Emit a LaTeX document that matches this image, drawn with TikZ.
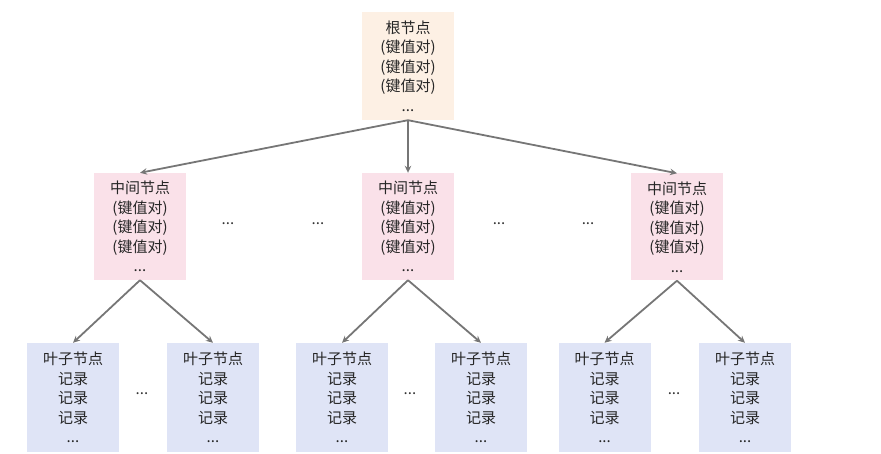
\documentclass[tikz,border=0pt]{standalone}
\usepackage{fontspec}
\setmainfont{Noto Sans CJK SC}
\usetikzlibrary{arrows.meta}
\definecolor{rootfill}{RGB}{253,240,228}
\definecolor{midfill}{RGB}{250,225,233}
\definecolor{leaffill}{RGB}{223,228,246}
\definecolor{arrgray}{RGB}{118,118,118}
\tikzset{
  box/.style={minimum width=92pt, inner sep=0pt, align=center,
    font=\fontsize{15}{19.5}\selectfont, text=black!85},
  rootbox/.style={box, fill=rootfill, minimum height=108pt},
  midbox/.style={box, fill=midfill, minimum height=107pt},
  leafbox/.style={box, fill=leaffill, minimum height=109pt},
  conn/.style={draw=arrgray, line width=1.8pt, -{Stealth[length=7pt,width=6.5pt]}},
  gap/.style={font=\fontsize{15}{16}\selectfont, text=black!80, inner sep=0pt}
}
\begin{document}
\begin{tikzpicture}[x=1pt,y=-1pt]
\useasboundingbox (0,0) rectangle (881,454);
\node[rootbox] (root) at (408,66) {根节点\\(键值对)\\(键值对)\\(键值对)\\...};
\node[midbox] (m1) at (140,226.5) {中间节点\\(键值对)\\(键值对)\\(键值对)\\...};
\node[midbox] (m2) at (408,226.5) {中间节点\\(键值对)\\(键值对)\\(键值对)\\...};
\node[midbox] (m3) at (677,227) {中间节点\\(键值对)\\(键值对)\\(键值对)\\...};
\node[leafbox] (l1) at (73,397.5) {叶子节点\\记录\\记录\\记录\\...};
\node[leafbox] (l2) at (213,397.5) {叶子节点\\记录\\记录\\记录\\...};
\node[leafbox] (l3) at (342,397.5) {叶子节点\\记录\\记录\\记录\\...};
\node[leafbox] (l4) at (481,397.5) {叶子节点\\记录\\记录\\记录\\...};
\node[leafbox] (l5) at (604.5,397.5) {叶子节点\\记录\\记录\\记录\\...};
\node[leafbox] (l6) at (745,397.5) {叶子节点\\记录\\记录\\记录\\...};
\node[gap] (g1) at (228,224) {...};
\node[gap] (g2) at (318,224) {...};
\node[gap] (g3) at (499,224) {...};
\node[gap] (g4) at (588,224) {...};
\node[gap] (g5) at (142,394) {...};
\node[gap] (g6) at (410,394) {...};
\node[gap] (g7) at (674,394) {...};
\draw[conn] (root.south) -- (m1.north);
\draw[conn] (root.south) -- (m2.north);
\draw[conn] (root.south) -- (m3.north);
\draw[conn] (m1.south) -- (l1.north);
\draw[conn] (m1.south) -- (l2.north);
\draw[conn] (m2.south) -- (l3.north);
\draw[conn] (m2.south) -- (l4.north);
\draw[conn] (m3.south) -- (l5.north);
\draw[conn] (m3.south) -- (l6.north);
\end{tikzpicture}
\end{document}
